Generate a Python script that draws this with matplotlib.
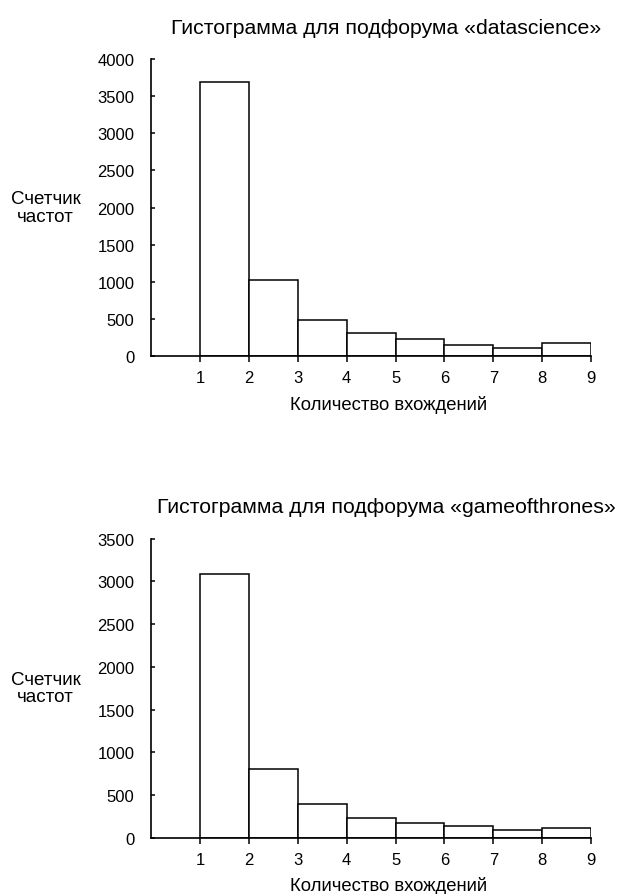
import numpy as np
import matplotlib
matplotlib.use('Agg')
import matplotlib.pyplot as plt

plt.rcParams['font.family'] = ['Liberation Sans', 'DejaVu Sans']

# границы интервалов (количество вхождений)
bin_edges = [1, 2, 3, 4, 5, 6, 7, 8, 9]
# частоты для подфорума datascience
counts_ds = [3685, 1025, 490, 315, 235, 145, 108, 175]
# частоты для подфорума gameofthrones
counts_got = [3090, 808, 390, 234, 176, 133, 86, 117]

titles = ['Гистограмма для подфорума «datascience»',
          'Гистограмма для подфорума «gameofthrones»']
y_tops = [4000, 3500]
xlabel = 'Количество вхождений'
ylabel = 'Счетчик\nчастот'
x_ticks = [1, 2, 3, 4, 5, 6, 7, 8, 9]

fig = plt.figure(figsize=(6.19, 8.95), dpi=100)
ax1 = fig.add_axes([0.244, 0.601, 0.711, 0.332])
ax2 = fig.add_axes([0.244, 0.063, 0.711, 0.334])

for ax, counts, title, ytop in zip([ax1, ax2], [counts_ds, counts_got], titles, y_tops):
    ax.hist(bin_edges[:-1], bins=bin_edges, weights=counts,
            histtype='bar', facecolor='white', edgecolor='black', linewidth=1.1)
    ax.set_xlim(0, 9)
    ax.set_ylim(0, ytop)
    ax.set_xticks(x_ticks)
    ax.set_yticks(np.arange(0, ytop + 1, 500))
    for s in ['top', 'right']:
        ax.spines[s].set_visible(False)
    ax.spines['left'].set_linewidth(1.2)
    ax.spines['bottom'].set_linewidth(1.2)
    ax.tick_params(axis='x', direction='out', length=4, width=1.1, labelsize=12, pad=6)
    ax.tick_params(axis='y', direction='in', length=3, width=1.1, labelsize=12, pad=12)
    ax.set_xlabel(xlabel, fontsize=13.3, labelpad=6)
    ax.xaxis.set_label_coords(0.539, -0.13)
    ax.set_ylabel(ylabel, fontsize=13.5, rotation=0, ha='center', va='center',
                  linespacing=1.05)
    ax.yaxis.set_label_coords(-0.24, 0.5)
    ax.set_title(title, fontsize=15.3, x=0.534, pad=19)

fig.savefig('out.png', dpi=100, facecolor='white')
